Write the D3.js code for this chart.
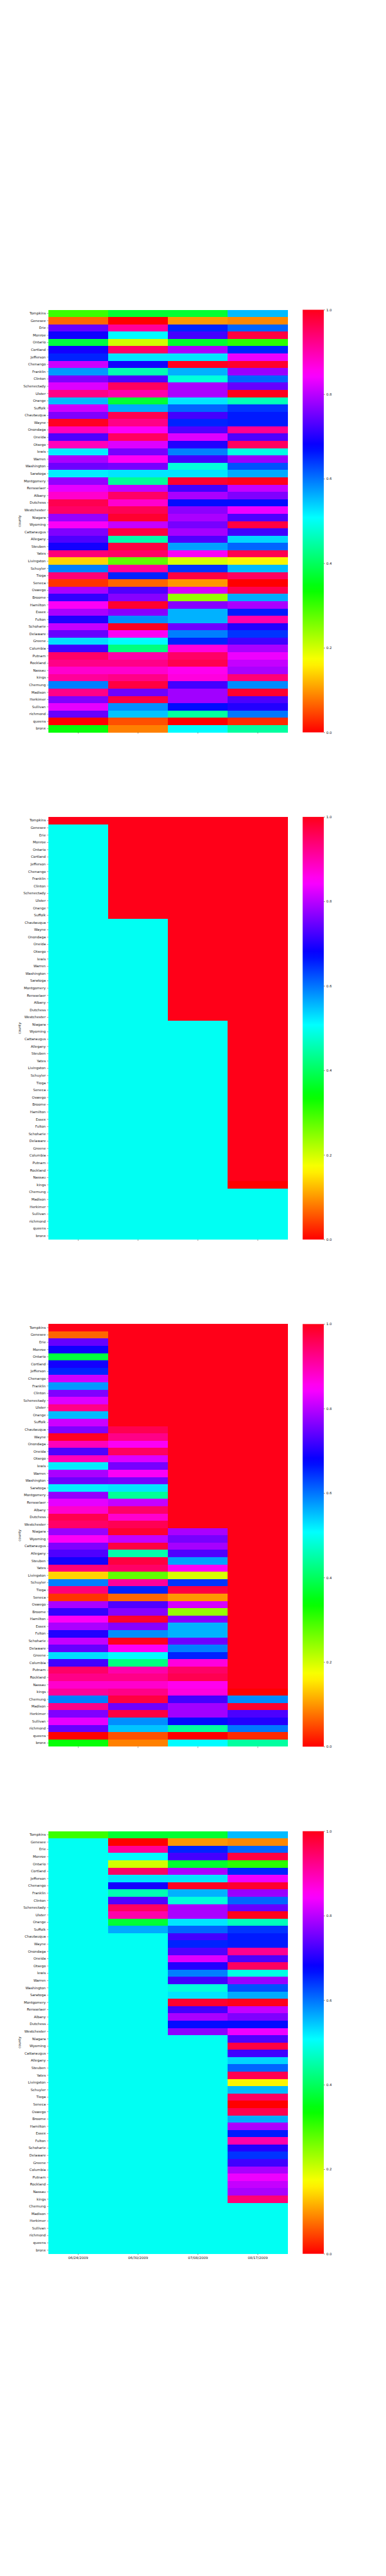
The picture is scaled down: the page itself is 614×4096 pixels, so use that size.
<!DOCTYPE html>
<html><head><meta charset="utf-8">
<script src="https://cdn.jsdelivr.net/npm/d3@7"></script>
<style>
body{margin:0;background:#fff}
svg{display:block}
text{font-family:"DejaVu Sans",sans-serif}
</style>
</head><body>
<svg id="chart"></svg>
<script>
// ---------- data ----------
const counties=["Tompkins","Genesee","Erie","Monroe","Ontario","Cortland","Jefferson","Chenango","Franklin","Clinton",
"Schenectady","Ulster","Orange","Suffolk","Chautauqua","Wayne","Onondaga","Oneida","Otsego","lewis",
"Warren","Washington","Saratoga","Montgomery","Rensselaer","Albany","Dutchess","Westchester","Niagara","Wyoming",
"Cattaraugus","Allegany","Steuben","Yates","Livingston","Schuyler","Tioga","Seneca","Oswego","Broome",
"Hamilton","Essex","Fulton","Schoharie","Delaware","Greene","Columbia","Putnam","Rockland","Nassau",
"kings","Chemung","Madison","Herkimer","Sullivan","richmond","queens","bronx"];
const dates=["06/24/2009","06/30/2009","07/08/2009","08/17/2009"];

const rates0624=[0.30,0.068,0.745,0.688,0.381,0.69,0.655,0.813,0.576,0.762,
0.824,0.926,0.553,0.813,0.762,0.993,0.892,0.73,0.892,0.519,
0.79,0.75,0.519,0.775,0.83,0.88,0.963,0.948,0.779,0.85,
0.762,0.73,0.69,0.937,0.141,0.593,0.937,0.034,0.79,0.711,
0.85,0.79,0.70,0.808,0.745,0.53,0.72,0.948,0.926,0.88,
0.914,0.593,0.926,0.762,0.83,0.745,0.0,0.34];
const rates0630=[0.372,0.0,0.914,0.51,0.20,0.948,0.525,0.69,0.457,0.731,
0.952,0.903,0.375,0.564,0.963,0.926,0.85,0.952,0.824,0.756,
0.85,0.756,0.525,0.44,0.808,0.948,0.88,0.96,0.985,0.808,
0.973,0.452,0.973,0.948,0.275,0.914,0.655,0.068,0.73,0.767,
0.985,0.767,0.582,0.995,0.85,0.51,0.423,0.903,0.926,0.88,
0.926,0.973,0.75,0.973,0.582,0.547,0.053,0.085];
const rates0708=[0.372,0.10,0.655,0.722,0.37,0.79,0.525,0.995,0.559,0.485,
0.79,0.79,0.525,0.61,0.722,0.655,0.731,0.824,0.70,0.593,
0.722,0.485,0.525,0.985,0.722,0.79,0.672,0.77,0.79,0.756,
0.787,0.73,0.571,0.85,0.195,0.643,0.973,0.10,0.82,0.24,
0.767,0.559,0.559,0.751,0.593,0.655,0.869,0.948,0.963,0.858,
0.869,0.722,0.784,0.784,0.672,0.445,0.0,0.51];
const rates0817=[0.553,0.09,0.61,0.973,0.31,0.655,0.835,0.985,0.779,0.61,
0.745,0.998,0.463,0.643,0.66,0.66,0.92,0.73,0.952,0.49,
0.779,0.624,0.564,0.998,0.808,0.762,0.672,0.835,0.73,0.973,
0.72,0.536,0.61,0.963,0.165,0.553,0.952,0.0,0.963,0.564,
0.79,0.66,0.903,0.70,0.643,0.72,0.79,0.835,0.808,0.79,
0.936,0.585,0.985,0.728,0.70,0.598,0.028,0.445];

// flag matrix (second panel): 1 / 0 = flagged (red), 0.5 = not flagged (cyan)
const flag0624=[1,0.5,0.5,0.5,0.5,0.5,0.5,0.5,0.5,0.5,
0.5,0.5,0.5,0.5,0.5,0.5,0.5,0.5,0.5,0.5,
0.5,0.5,0.5,0.5,0.5,0.5,0.5,0.5,0.5,0.5,
0.5,0.5,0.5,0.5,0.5,0.5,0.5,0.5,0.5,0.5,
0.5,0.5,0.5,0.5,0.5,0.5,0.5,0.5,0.5,0.5,
0.5,0.5,0.5,0.5,0.5,0.5,0.5,0.5];
const flag0630=[1,1,1,1,1,1,1,1,1,1,
1,1,1,1,0.5,0.5,0.5,0.5,0.5,0.5,
0.5,0.5,0.5,0.5,0.5,0.5,0.5,0.5,0.5,0.5,
0.5,0.5,0.5,0.5,0.5,0.5,0.5,0.5,0.5,0.5,
0.5,0.5,0.5,0.5,0.5,0.5,0.5,0.5,0.5,0.5,
0.5,0.5,0.5,0.5,0.5,0.5,0.5,0.5];
const flag0708=[1,1,1,1,1,1,1,1,1,1,
1,1,1,1,1,1,1,1,1,1,
1,1,1,1,1,1,1,1,0.5,0.5,
0.5,0.5,0.5,0.5,0.5,0.5,0.5,0.5,0.5,0.5,
0.5,0.5,0.5,0.5,0.5,0.5,0.5,0.5,0.5,0.5,
0.5,0.5,0.5,0.5,0.5,0.5,0.5,0.5];
const flag0817=[1,1,1,1,1,1,1,1,1,1,
1,1,1,1,1,1,1,1,1,1,
1,1,1,1,1,1,1,1,1,1,
1,1,1,1,1,1,1,1,1,1,
1,1,1,1,1,1,1,1,1,1,
0,0.5,0.5,0.5,0.5,0.5,0.5,0.5];

const cbarTicks=[0,0.2,0.4,0.6,0.8,1.0];

// matplotlib "hsv" colormap breakpoints
const cmapStops=[0,0.15873,0.174603,0.333333,0.349206,0.507937,0.666667,0.68254,0.84127,0.857143,1];
const cmapColors=[[1,0,0],[1,0.9375,0],[0.96875,1,0],[0.03125,1,0],[0,1,0.0625],[0,1,1],
[0,0.0625,1],[0.03125,0,1],[0.96875,0,1],[1,0,0.9375],[1,0,0.09375]]
  .map(c=>d3.rgb(c[0]*255,c[1]*255,c[2]*255).formatHex());

// ---------- layout ----------
const W=1080,H=7200;
const axLeft=135, axRight=805, panelH=1182, top0=864, step=1418.4;
const cbX=846.85, cbW=59.1;
const txt="#111";
const fs=9.7;

const svg=d3.select("#chart").attr("width",614).attr("height",4096)
  .attr("viewBox",`0 0 ${W} ${H}`);
svg.append("rect").attr("width",W).attr("height",H).attr("fill","#fff");

const color=d3.scaleLinear().domain(cmapStops).range(cmapColors).interpolate(d3.interpolateRgb).clamp(true);

const defs=svg.append("defs");
const grad=defs.append("linearGradient").attr("id","hsvgrad")
  .attr("x1",0).attr("y1",1).attr("x2",0).attr("y2",0);
cmapStops.forEach((s,i)=>grad.append("stop").attr("offset",s).attr("stop-color",cmapColors[i]));

const rates=[rates0624,rates0630,rates0708,rates0817];
const flags=[flag0624,flag0630,flag0708,flag0817];
const panels=[
  (r,c)=>rates[c][r],
  (r,c)=>flags[c][r],
  (r,c)=>flags[c][r]===0.5?rates[c][r]:flags[c][r],
  (r,c)=>flags[c][r]===0.5?flags[c][r]:rates[c][r]
];

const x=d3.scaleBand().domain(dates).range([axLeft,axRight]).padding(0);

panels.forEach((valueOf,k)=>{
  const top=top0+k*step, bottom=top+panelH;
  const y=d3.scaleBand().domain(counties).range([top,bottom]).padding(0);
  const g=svg.append("g");
  const cells=[];
  counties.forEach((cn,r)=>dates.forEach((dt,c)=>cells.push({cn,dt,v:valueOf(r,c)})));
  g.append("g").attr("shape-rendering","crispEdges").selectAll("rect").data(cells).join("rect")
    .attr("x",d=>x(d.dt)).attr("y",d=>y(d.cn))
    .attr("width",d=>x.bandwidth()+(d.dt===dates[dates.length-1]?0:0.6))
    .attr("height",d=>y.bandwidth()+(d.cn===counties[counties.length-1]?0:0.6))
    .attr("fill",d=>color(d.v));

  // y axis
  const ya=g.append("g").attr("transform",`translate(${axLeft},0)`)
    .call(d3.axisLeft(y).tickSize(3.5).tickPadding(3.5));
  ya.select(".domain").remove();
  ya.selectAll("line").attr("stroke",txt).attr("stroke-width",0.8);
  ya.selectAll("text").attr("fill",txt).attr("font-size",fs).attr("font-family","DejaVu Sans");

  // x axis
  const xa=g.append("g").attr("transform",`translate(0,${bottom})`)
    .call(d3.axisBottom(x).tickSize(3.5).tickPadding(3.5).tickFormat(k===3?(d=>d):(()=>"")));
  xa.select(".domain").remove();
  xa.selectAll("line").attr("stroke",txt).attr("stroke-width",0.8);
  xa.selectAll("text").attr("fill",txt).attr("font-size",fs).attr("font-family","DejaVu Sans");

  // y label
  g.append("text").attr("transform",`translate(54,${(top+bottom)/2}) rotate(-90)`)
    .attr("text-anchor","middle").attr("dy","0.35em")
    .attr("font-size",fs).attr("fill",txt).text("county");

  // colorbar
  const cy=d3.scaleLinear().domain([0,1]).range([bottom,top]);
  g.append("rect").attr("x",cbX).attr("y",top).attr("width",cbW).attr("height",panelH)
    .attr("fill","url(#hsvgrad)");
  const ca=g.append("g").attr("transform",`translate(${cbX+cbW},0)`)
    .call(d3.axisRight(cy).tickValues(cbarTicks).tickFormat(d3.format(".1f")).tickSize(3.5).tickPadding(3.5));
  ca.select(".domain").remove();
  ca.selectAll("line").attr("stroke",txt).attr("stroke-width",0.8);
  ca.selectAll("text").attr("fill",txt).attr("font-size",fs).attr("font-family","DejaVu Sans");
});
</script>
</body></html>
